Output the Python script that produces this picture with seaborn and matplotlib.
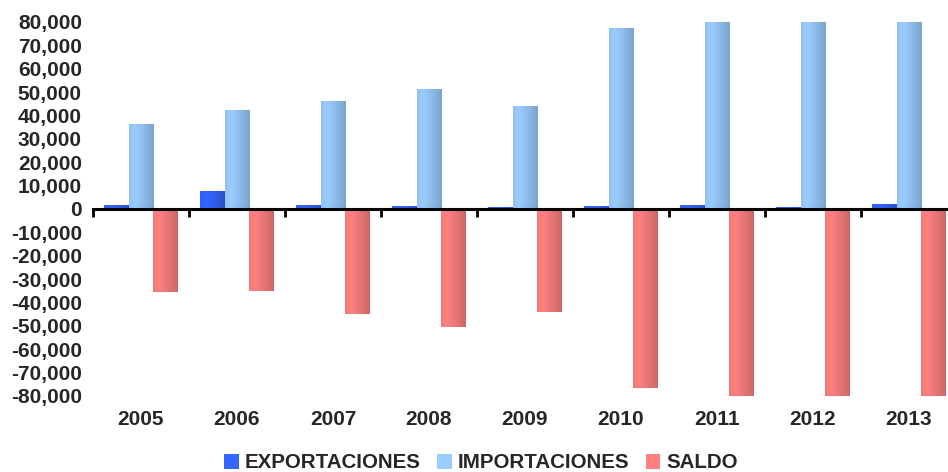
import numpy as np
import pandas as pd
import matplotlib
matplotlib.use('Agg')
import matplotlib.pyplot as plt
import seaborn as sns
from matplotlib.patches import Patch
from matplotlib.colors import to_rgb
from matplotlib.ticker import FuncFormatter
from matplotlib.font_manager import FontProperties

# Datos
years = ['2005', '2006', '2007', '2008', '2009', '2010', '2011', '2012', '2013']
exportaciones = [1700, 7700, 1700, 1000, 600, 1100, 1700, 800, 2100]
importaciones = [36300, 42300, 46200, 51000, 43800, 77400, 83000, 84500, 86000]
saldo = [-35300, -34900, -44900, -50500, -44000, -76400, -81300, -83700, -83900]
series = ['EXPORTACIONES', 'IMPORTACIONES', 'SALDO']
colores = ['#3366FF', '#99CCFF', '#FF8080']

df = pd.DataFrame({
    'year': years * 3,
    'serie': [series[0]] * 9 + [series[1]] * 9 + [series[2]] * 9,
    'valor': exportaciones + importaciones + saldo,
})

sns.set_style('white')
plt.rcParams['font.family'] = ['Liberation Sans', 'DejaVu Sans']
plt.rcParams['font.weight'] = 'bold'

fig = plt.figure(figsize=(9.48, 4.72), dpi=100)
ax = fig.add_axes([93 / 948, 1 - 396 / 472, 864 / 948, 374 / 472])

sns.barplot(data=df, x='year', y='valor', hue='serie', hue_order=series,
            palette=colores, width=0.77, gap=0, saturation=1,
            legend=False, ax=ax)

# sombreado tipo cilindro
t = np.linspace(0, 1, 64)
shade = np.interp(t, [0, 0.25, 0.55, 1], [0.95, 1.0, 0.93, 0.8])
for p in list(ax.patches):
    x0, y0 = p.get_xy()
    w, h = p.get_width(), p.get_height()
    if h == 0:
        continue
    base = np.array(to_rgb(p.get_facecolor()))
    img = np.clip(base[None, None, :] * shade[None, :, None], 0, 1)
    ax.imshow(img, extent=[x0, x0 + w, min(y0, y0 + h), max(y0, y0 + h)],
              aspect='auto', interpolation='bilinear', zorder=1)
    p.set_visible(False)

ax.set_xlim(-0.5, 8.5)
ax.set_ylim(-80000, 80000)
ax.set_yticks(np.arange(-80000, 80001, 10000))
ax.yaxis.set_major_formatter(FuncFormatter(lambda v, pos: f'{int(v):,}'))
ax.tick_params(axis='y', length=0, pad=8, labelsize=15)
ax.tick_params(axis='x', length=0, pad=10, labelsize=15)
for lbl in ax.get_xticklabels() + ax.get_yticklabels():
    lbl.set_fontweight('bold')
ax.set_xlabel('')
ax.set_ylabel('')
for s in ax.spines.values():
    s.set_visible(False)

# eje en cero con marcas entre categorias
sec = ax.secondary_xaxis(0.5)
sec.set_xticks(np.arange(-0.5, 9, 1))
sec.set_xticklabels([])
sec.tick_params(axis='x', direction='in', length=6, width=2, color='black')
for s in sec.spines.values():
    s.set_visible(False)
sec.spines['top'].set_visible(True)
sec.spines['top'].set_linewidth(2.2)
sec.spines['top'].set_color('black')
sec.set_zorder(5)

handles = [Patch(facecolor=c, edgecolor='none') for c in colores]
fp = FontProperties(family='Liberation Sans', weight='bold', size=14.8)
fig.legend(handles, series, loc='center', bbox_to_anchor=(481 / 948, 1 - 463 / 472),
           ncol=3, frameon=False, handlelength=0.7, handleheight=0.7,
           handletextpad=0.3, columnspacing=0.8, prop=fp)

fig.savefig('out.png', dpi=100)
